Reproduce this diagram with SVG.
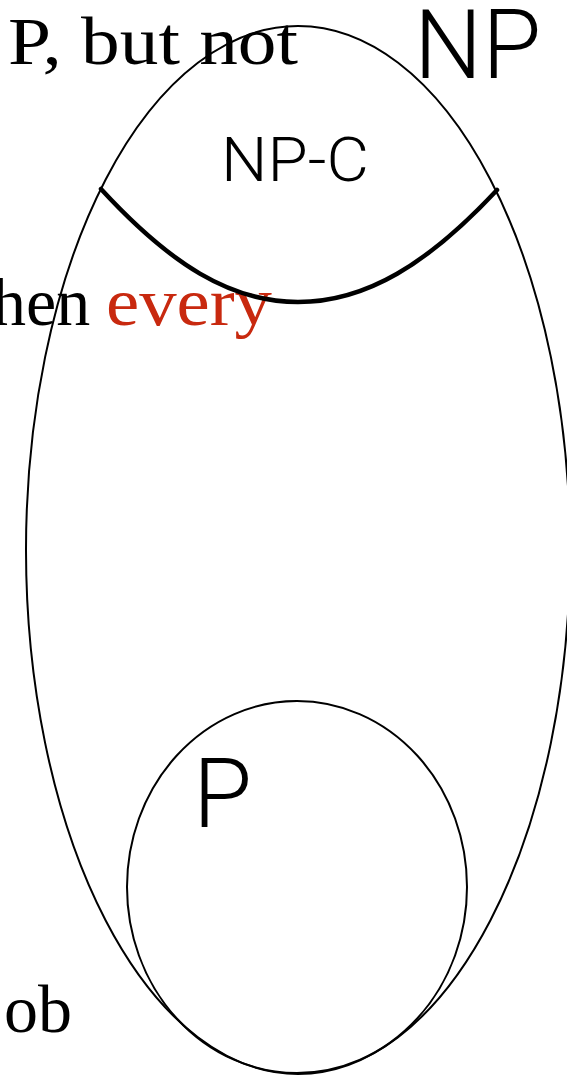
<svg xmlns="http://www.w3.org/2000/svg" width="567" height="1078" viewBox="0 0 567 1078">
<style>
.serif{font-family:"Liberation Serif","Times New Roman",serif;font-size:68px;fill:#000}
.red{fill:#c8290f}
.sans{font-family:Roboto,"Liberation Sans",Arial,sans-serif;font-weight:300;fill:#000}
.set{fill:none;stroke:#000;stroke-width:2}
.cut{fill:none;stroke:#000;stroke-width:4.5;stroke-linecap:round}
</style>
<rect width="567" height="1078" fill="#fff"/>
<g id="background-text">
<text class="serif" x="8" y="64" textLength="290" lengthAdjust="spacingAndGlyphs">P, but not</text>
<text class="serif" x="-8" y="325">hen <tspan class="red" x="106" textLength="166" lengthAdjust="spacingAndGlyphs">every</tspan></text>
<text class="serif" x="4" y="1032" font-size="70">ob</text>
</g>
<g id="NP">
<ellipse class="set" cx="298" cy="550" rx="272" ry="524"/>
<text class="sans" x="414" y="78" font-size="96">NP</text>
</g>
<g id="P">
<ellipse class="set" cx="297" cy="887" rx="170" ry="186"/>
<text class="sans" x="193" y="827" font-size="96">P</text>
</g>
<g id="connectors">
<path class="cut" d="M101,189 C170,264 230,302 298,302 C366,302 428,264 497,190"/>
</g>
<g id="NP-C">
<text class="sans" x="221" y="181" font-size="61" textLength="148" lengthAdjust="spacingAndGlyphs">NP-C</text>
</g>
</svg>
